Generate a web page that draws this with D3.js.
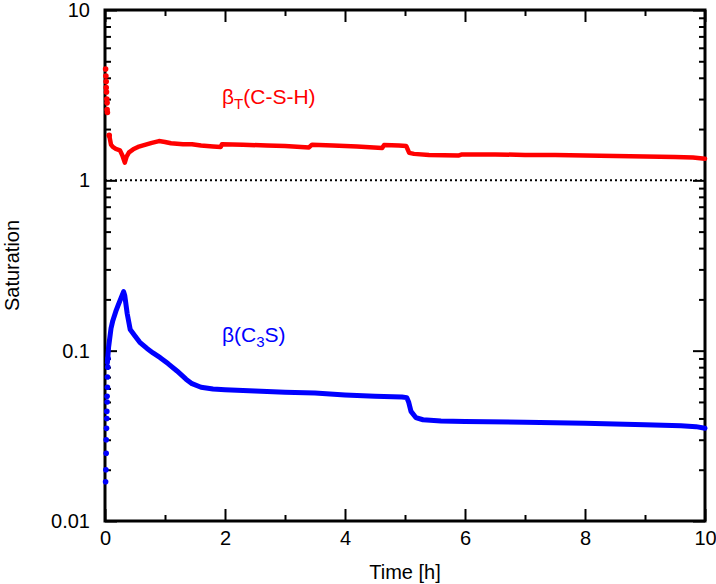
<!DOCTYPE html>
<html>
<head>
<meta charset="utf-8">
<script src="https://cdn.jsdelivr.net/npm/d3@7"></script>
<style>
  body { margin: 0; background: #fff; }
  svg { font-family: "Liberation Sans", Arial, sans-serif; }
</style>
</head>
<body>
<div id="chart"></div>
<script>
// beta_T(C-S-H) curve
const redT = [0.07, 0.10, 0.13, 0.18, 0.25, 0.29, 0.33, 0.36, 0.40, 0.47, 0.55, 0.65, 0.78, 0.90, 1.00, 1.10, 1.20, 1.30, 1.45, 1.60, 1.80, 1.93, 1.95, 2.30, 2.70, 3.00, 3.40, 3.45, 3.80, 4.20, 4.62, 4.65, 4.90, 5.02, 5.07, 5.15, 5.40, 5.90, 5.95, 6.50, 7.00, 7.50, 8.00, 8.50, 9.00, 9.50, 9.80, 10.0];
const redV = [1.84, 1.62, 1.57, 1.53, 1.50, 1.40, 1.27, 1.38, 1.46, 1.52, 1.57, 1.61, 1.66, 1.70, 1.68, 1.65, 1.64, 1.63, 1.63, 1.60, 1.58, 1.57, 1.63, 1.62, 1.60, 1.59, 1.56, 1.62, 1.60, 1.58, 1.55, 1.61, 1.60, 1.59, 1.45, 1.43, 1.41, 1.40, 1.42, 1.42, 1.41, 1.41, 1.40, 1.39, 1.38, 1.37, 1.36, 1.34];
// scattered early points near t = 0
const redDotT = [0.01, 0.015, 0.02, 0.02, 0.025, 0.03, 0.035, 0.035, 0.04, 0.07];
const redDotV = [4.5, 4.1, 3.8, 3.5, 3.3, 3.0, 2.85, 2.6, 2.5, 1.84];

// beta(C3S) curve
const blueT = [0.04, 0.06, 0.10, 0.13, 0.18, 0.22, 0.27, 0.31, 0.33, 0.37, 0.42, 0.50, 0.58, 0.70, 0.80, 0.92, 1.05, 1.20, 1.35, 1.45, 1.60, 1.80, 2.00, 2.50, 3.00, 3.50, 4.00, 4.50, 4.95, 5.03, 5.06, 5.10, 5.18, 5.30, 5.60, 6.00, 7.00, 8.00, 9.00, 9.60, 9.85, 10.0];
const blueV = [0.085, 0.105, 0.135, 0.15, 0.17, 0.185, 0.205, 0.222, 0.21, 0.165, 0.133, 0.122, 0.112, 0.103, 0.097, 0.091, 0.084, 0.076, 0.068, 0.064, 0.061, 0.0595, 0.059, 0.058, 0.057, 0.0565, 0.055, 0.054, 0.0535, 0.053, 0.050, 0.044, 0.0405, 0.0393, 0.0387, 0.0384, 0.038, 0.0375, 0.0367, 0.0362, 0.0358, 0.035];
const blueDotT = [0.01, 0.015, 0.02, 0.02, 0.025, 0.03, 0.03, 0.035, 0.035, 0.04, 0.04, 0.045, 0.05];
const blueDotV = [0.017, 0.02, 0.025, 0.03, 0.035, 0.04, 0.044, 0.05, 0.054, 0.061, 0.07, 0.08, 0.09];

const xMajor = [0, 2, 4, 6, 8, 10];
const xMinor = [1, 3, 5, 7, 9];
const yMajor = [0.01, 0.1, 1, 10];

const width = 716, height = 584;
const margin = { top: 10, right: 11, bottom: 63, left: 105 };
const iw = width - margin.left - margin.right;
const ih = height - margin.top - margin.bottom;

const yMinor = [];
[0.01, 0.1, 1].forEach(d => { for (let k = 2; k <= 9; k++) yMinor.push(d * k); });

const svg = d3.select('#chart').append('svg')
    .attr('width', width)
    .attr('height', height);

const g = svg.append('g').attr('transform', `translate(${margin.left},${margin.top})`);

const x = d3.scaleLinear().domain([0, 10]).range([0, iw]);
const y = d3.scaleLog().domain([0.01, 10]).range([ih, 0]);

// axes: ticks point inward
function styleAxis(sel) {
    sel.select('.domain').remove();
    sel.selectAll('.tick line').attr('stroke', '#000').attr('stroke-width', 2);
    sel.selectAll('.tick text').attr('font-size', 20).attr('fill', '#000');
}

g.append('g').attr('transform', `translate(0,${ih})`)
    .call(d3.axisBottom(x).tickValues(xMajor).tickSize(-12).tickPadding(10).tickFormat(d3.format('d')))
    .call(styleAxis);
g.append('g').attr('transform', `translate(0,${ih})`)
    .call(d3.axisBottom(x).tickValues(xMinor).tickSize(-6).tickFormat(''))
    .call(styleAxis);
g.append('g')
    .call(d3.axisTop(x).tickValues(xMajor).tickSize(-12).tickFormat(''))
    .call(styleAxis);
g.append('g')
    .call(d3.axisTop(x).tickValues(xMinor).tickSize(-6).tickFormat(''))
    .call(styleAxis);

g.append('g')
    .call(d3.axisLeft(y).tickValues(yMajor).tickSize(-12).tickPadding(15).tickFormat(d3.format('~g')))
    .call(styleAxis);
g.append('g')
    .call(d3.axisLeft(y).tickValues(yMinor).tickSize(-6).tickFormat(''))
    .call(styleAxis);
g.append('g').attr('transform', `translate(${iw},0)`)
    .call(d3.axisRight(y).tickValues(yMajor).tickSize(-12).tickFormat(''))
    .call(styleAxis);
g.append('g').attr('transform', `translate(${iw},0)`)
    .call(d3.axisRight(y).tickValues(yMinor).tickSize(-6).tickFormat(''))
    .call(styleAxis);

// saturation = 1 reference
g.append('line')
    .attr('x1', 0).attr('x2', iw)
    .attr('y1', y(1)).attr('y2', y(1))
    .attr('stroke', '#000')
    .attr('stroke-width', 2)
    .attr('stroke-dasharray', '2,3');

// frame
g.append('rect')
    .attr('width', iw).attr('height', ih)
    .attr('fill', 'none')
    .attr('stroke', '#000')
    .attr('stroke-width', 3);

const line = d3.line().x(d => x(d[0])).y(d => y(d[1]));

function drawSeries(ts, vs, dotTs, dotVs, color, w) {
    g.append('path')
        .datum(ts.map((t, i) => [t, vs[i]]))
        .attr('fill', 'none')
        .attr('stroke', color)
        .attr('stroke-width', w)
        .attr('stroke-linejoin', 'round')
        .attr('stroke-linecap', 'round')
        .attr('d', line);
    g.selectAll(null)
        .data(dotTs.map((t, i) => [t, dotVs[i]]))
        .enter().append('circle')
        .attr('cx', d => x(d[0]))
        .attr('cy', d => y(d[1]))
        .attr('r', 2.8)
        .attr('fill', color);
}

drawSeries(redT, redV, redDotT, redDotV, '#ff0000', 4.5);
drawSeries(blueT, blueV, blueDotT, blueDotV, '#0000ff', 5);

// series labels
const t1 = g.append('text').attr('x', 222 - margin.left).attr('y', 104 - margin.top)
    .attr('font-size', 21).attr('fill', '#ff0000');
t1.append('tspan').text('\u03b2');
t1.append('tspan').attr('font-size', 15).attr('dy', 5).text('T');
t1.append('tspan').attr('dy', -5).text('(C-S-H)');

const t2 = g.append('text').attr('x', 222 - margin.left).attr('y', 342 - margin.top)
    .attr('font-size', 21).attr('fill', '#0000ff');
t2.append('tspan').text('\u03b2(C');
t2.append('tspan').attr('font-size', 15).attr('dy', 5).text('3');
t2.append('tspan').attr('dy', -5).text('S)');

// axis titles
svg.append('text')
    .attr('x', margin.left + iw / 2).attr('y', 579)
    .attr('text-anchor', 'middle')
    .attr('font-size', 20)
    .text('Time [h]');

svg.append('text')
    .attr('transform', `translate(19,${margin.top + ih / 2}) rotate(-90)`)
    .attr('text-anchor', 'middle')
    .attr('font-size', 20)
    .text('Saturation');
</script>
</body>
</html>
